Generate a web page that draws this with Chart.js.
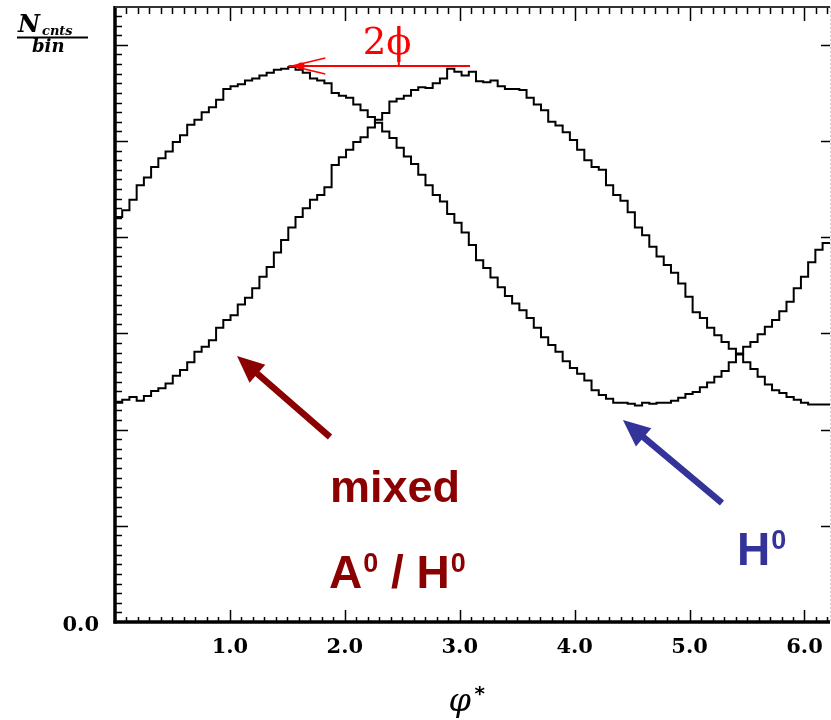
<!DOCTYPE html>
<html>
<head>
<meta charset="utf-8">
<title>phi*</title>
<script src="https://cdn.jsdelivr.net/npm/chart.js@4.4.1/dist/chart.umd.min.js"></script>
<style>
  html, body { margin: 0; padding: 0; background: #fff; }
  #grafico { display: block; }
</style>
</head>
<body>
<canvas id="grafico" width="831" height="720"></canvas>
<script>
// 100 bins entre 0 y 2pi
const nBins = 100;
const anchoBin = 2 * Math.PI / nBins;

// histograma H0 (maximo cerca de phi* = 1.6)
const serieH0 = [
  4.13, 4.21, 4.28, 4.39, 4.54, 4.62, 4.73, 4.82, 4.89, 4.99,
  5.06, 5.17, 5.22, 5.30, 5.35, 5.43, 5.54, 5.57, 5.59, 5.63,
  5.65, 5.68, 5.71, 5.74, 5.75, 5.77, 5.74, 5.71, 5.65, 5.63,
  5.60, 5.50, 5.47, 5.45, 5.38, 5.32, 5.25, 5.19, 5.10, 5.03,
  4.93, 4.84, 4.76, 4.65, 4.54, 4.44, 4.37, 4.24, 4.15, 4.05,
  3.92, 3.76, 3.68, 3.58, 3.48, 3.39, 3.31, 3.24, 3.16, 3.06,
  2.96, 2.88, 2.81, 2.71, 2.64, 2.58, 2.51, 2.41, 2.36, 2.32,
  2.28, 2.28, 2.27, 2.25, 2.28, 2.27, 2.28, 2.28, 2.30, 2.33,
  2.37, 2.39, 2.44, 2.49, 2.55, 2.61, 2.70, 2.79, 2.86, 2.91,
  2.99, 3.07, 3.14, 3.23, 3.33, 3.47, 3.59, 3.74, 3.87, 3.94
];

// histograma mezcla A0/H0 (maximo cerca de phi* = 3.1)
const serieMixta = [
  2.23, 2.28, 2.31, 2.34, 2.30, 2.35, 2.40, 2.43, 2.48, 2.56,
  2.62, 2.70, 2.81, 2.86, 2.93, 3.06, 3.14, 3.19, 3.30, 3.37,
  3.47, 3.59, 3.69, 3.84, 3.97, 4.10, 4.21, 4.30, 4.39, 4.44,
  4.52, 4.75, 4.83, 4.91, 4.99, 5.04, 5.14, 5.22, 5.29, 5.41,
  5.44, 5.47, 5.53, 5.56, 5.55, 5.60, 5.65, 5.75, 5.72, 5.68,
  5.72, 5.62, 5.61, 5.63, 5.57, 5.54, 5.54, 5.53, 5.45, 5.38,
  5.32, 5.20, 5.16, 5.09, 5.01, 4.91, 4.80, 4.73, 4.70, 4.54,
  4.44, 4.38, 4.26, 4.10, 4.02, 3.90, 3.80, 3.71, 3.63, 3.52,
  3.38, 3.22, 3.16, 3.06, 2.98, 2.91, 2.84, 2.78, 2.70, 2.63,
  2.55, 2.47, 2.41, 2.38, 2.34, 2.31, 2.28, 2.26, 2.26, 2.26
];

const etiquetasX = ['1.0', '2.0', '3.0', '4.0', '5.0', '6.0'];
const etiquetasY = ['0.0'];
const rangoX = [0, 6.222];
const rangoY = [0, 6.393];

// puntos en el borde izq de cada bin + cierre al final
function puntos(valores) {
  const pts = valores.map((v, i) => ({ x: i * anchoBin, y: v }));
  pts.push({ x: nBins * anchoBin, y: valores[valores.length - 1] });
  return pts;
}

function linea(ctx, x1, y1, x2, y2) {
  ctx.beginPath();
  ctx.moveTo(x1, y1);
  ctx.lineTo(x2, y2);
  ctx.stroke();
}

function flecha(ctx, x1, y1, x2, y2, color) {
  const ang = Math.atan2(y2 - y1, x2 - x1);
  const largo = 27, medio = 12;
  const bx = x2 - largo * Math.cos(ang), by = y2 - largo * Math.sin(ang);
  ctx.strokeStyle = color;
  ctx.fillStyle = color;
  ctx.lineWidth = 6.5;
  linea(ctx, x1, y1, bx + 4 * Math.cos(ang), by + 4 * Math.sin(ang));
  ctx.beginPath();
  ctx.moveTo(x2, y2);
  ctx.lineTo(bx + medio * Math.sin(ang), by - medio * Math.cos(ang));
  ctx.lineTo(bx - medio * Math.sin(ang), by + medio * Math.cos(ang));
  ctx.closePath();
  ctx.fill();
}

// texto con superindice "0"
function textoSup(ctx, partes, x, y, tam) {
  let cx = x;
  for (const p of partes) {
    if (p.sup) {
      ctx.font = 'bold ' + Math.round(tam * 0.58) + 'px "Liberation Sans", Arial, sans-serif';
      ctx.fillText(p.t, cx + 1, y - tam * 0.34);
      cx += ctx.measureText(p.t).width + 1;
    } else {
      ctx.font = 'bold ' + tam + 'px "Liberation Sans", Arial, sans-serif';
      ctx.fillText(p.t, cx, y);
      cx += ctx.measureText(p.t).width;
    }
  }
}

// marco, ticks hacia adentro y etiquetas de los ejes
const ejesPlugin = {
  id: 'ejes',
  afterDatasetsDraw(chart) {
    const { ctx, chartArea: a, scales: { x, y } } = chart;
    ctx.save();
    ctx.strokeStyle = '#000';
    ctx.lineCap = 'butt';

    ctx.lineWidth = 1.5;
    for (let k = 1; k * 0.1 < rangoX[1]; k++) {
      const px = Math.round(x.getPixelForValue(k * 0.1)) + 0.5;
      const mayor = k % 10 === 0;
      linea(ctx, px, a.bottom, px, a.bottom - (mayor ? 12 : 5));
      linea(ctx, px, a.top, px, a.top + (mayor ? 14 : 7));
    }
    for (let k = 1; k * 0.1 < rangoY[1]; k++) {
      const py = Math.round(y.getPixelForValue(k * 0.1)) + 0.5;
      const mayor = k % 10 === 0;
      linea(ctx, a.left, py, a.left + (mayor ? 13 : 7), py);
      if (mayor) linea(ctx, a.right, py, a.right - 9, py);
    }

    // marco
    ctx.lineWidth = 3.5;
    linea(ctx, a.left, a.top - 1, a.left, a.bottom + 1.5);
    linea(ctx, a.left - 1.5, a.bottom, a.right, a.bottom);
    ctx.lineWidth = 2;
    ctx.strokeStyle = '#333';
    linea(ctx, a.left, a.top, a.right, a.top);
    ctx.lineWidth = 1;
    ctx.strokeStyle = '#ccc';
    ctx.setLineDash([2, 2]);
    linea(ctx, a.right + 0.5, a.top, a.right + 0.5, a.bottom);
    ctx.setLineDash([]);

    // etiquetas
    ctx.fillStyle = '#000';
    ctx.font = 'bold 21px "DejaVu Serif", serif';
    ctx.textAlign = 'center';
    ctx.textBaseline = 'middle';
    for (const t of etiquetasX) {
      ctx.fillText(t, x.getPixelForValue(parseFloat(t)), a.bottom + 26);
    }
    ctx.textAlign = 'right';
    ctx.fillText(etiquetasY[0], a.left - 16, y.getPixelForValue(0) + 4);

    // titulo eje x
    ctx.textAlign = 'center';
    ctx.textBaseline = 'alphabetic';
    ctx.font = 'italic 32px "DejaVu Serif", serif';
    ctx.fillText('\u03c6', x.getPixelForValue(3.0), a.bottom + 89);
    ctx.font = 'bold 20px "DejaVu Sans", sans-serif';
    ctx.fillText('*', x.getPixelForValue(3.0) + 20, a.bottom + 78);

    // titulo eje y: N_cnts / bin
    ctx.textAlign = 'left';
    ctx.font = 'bold italic 24px "DejaVu Serif", serif';
    ctx.fillText('N', 18, 32);
    ctx.font = 'bold italic 13px "DejaVu Serif", serif';
    ctx.fillText('cnts', 42, 35);
    ctx.lineWidth = 2;
    ctx.strokeStyle = '#000';
    linea(ctx, 17, 37.5, 88, 37.5);
    ctx.font = 'bold italic 18px "DejaVu Serif", serif';
    ctx.fillText('bin', 32, 52);
    ctx.restore();
  }
};

// anotaciones: 2phi, flechas y textos
const notasPlugin = {
  id: 'notas',
  afterDraw(chart) {
    const { ctx, scales: { x, y } } = chart;
    const X = v => x.getPixelForValue(v);
    const Y = v => y.getPixelForValue(v);
    ctx.save();

    // 2phi en rojo, el trazo del phi baja hasta la linea
    const rojo = '#ff0000';
    ctx.strokeStyle = rojo;
    ctx.fillStyle = rojo;
    ctx.font = '37px "DejaVu Serif", serif';
    ctx.textAlign = 'left';
    ctx.textBaseline = 'alphabetic';
    const xTrazo = X(2.47);
    const w2 = ctx.measureText('2').width;
    const wPhi = ctx.measureText('\u03d5').width;
    const xTexto = xTrazo - w2 - wPhi / 2;
    ctx.fillText('2\u03d5', xTexto, Y(5.9));

    ctx.lineWidth = 2;
    const yPico = Y(5.78);
    linea(ctx, X(1.51), yPico, X(3.09), yPico);
    linea(ctx, xTrazo, Y(6.0), xTrazo, yPico);
    ctx.lineWidth = 1.5;
    linea(ctx, X(1.54), yPico, X(1.83), yPico - 8);
    linea(ctx, X(1.54), yPico, X(1.83), yPico + 8);
    ctx.beginPath();
    ctx.arc(X(1.62), yPico, 3.5, 0, 2 * Math.PI);
    ctx.fill();

    // flechas
    flecha(ctx, X(1.871), Y(1.923), X(1.062), Y(2.765), '#8b0000');
    flecha(ctx, X(5.282), Y(1.237), X(4.42), Y(2.10), '#333399');

    // textos
    ctx.fillStyle = '#8b0000';
    ctx.font = 'bold 45px "Liberation Sans", Arial, sans-serif';
    ctx.fillText('mixed', X(1.871), Y(1.247));
    textoSup(ctx, [{ t: 'A' }, { t: '0', sup: true }, { t: ' / H' }, { t: '0', sup: true }], X(1.862), Y(0.353), 46);
    ctx.fillStyle = '#333399';
    textoSup(ctx, [{ t: 'H' }, { t: '0', sup: true }], X(5.412), Y(0.593), 46);
    ctx.restore();
  }
};

const grafico = new Chart(document.getElementById('grafico'), {
  type: 'line',
  data: {
    datasets: [
      {
        label: 'H0',
        data: puntos(serieH0),
        stepped: 'after',
        borderColor: '#000',
        borderWidth: 2,
        pointRadius: 0,
        fill: false
      },
      {
        label: 'mixed A0/H0',
        data: puntos(serieMixta),
        stepped: 'after',
        borderColor: '#000',
        borderWidth: 2,
        pointRadius: 0,
        fill: false
      }
    ]
  },
  options: {
    responsive: false,
    animation: false,
    devicePixelRatio: 1,
    layout: { padding: { left: 115, right: 1, top: 7, bottom: 98 } },
    scales: {
      x: { type: 'linear', min: rangoX[0], max: rangoX[1], display: false },
      y: { min: rangoY[0], max: rangoY[1], display: false }
    },
    plugins: {
      legend: { display: false },
      tooltip: { enabled: false }
    }
  },
  plugins: [ejesPlugin, notasPlugin]
});
</script>
</body>
</html>
